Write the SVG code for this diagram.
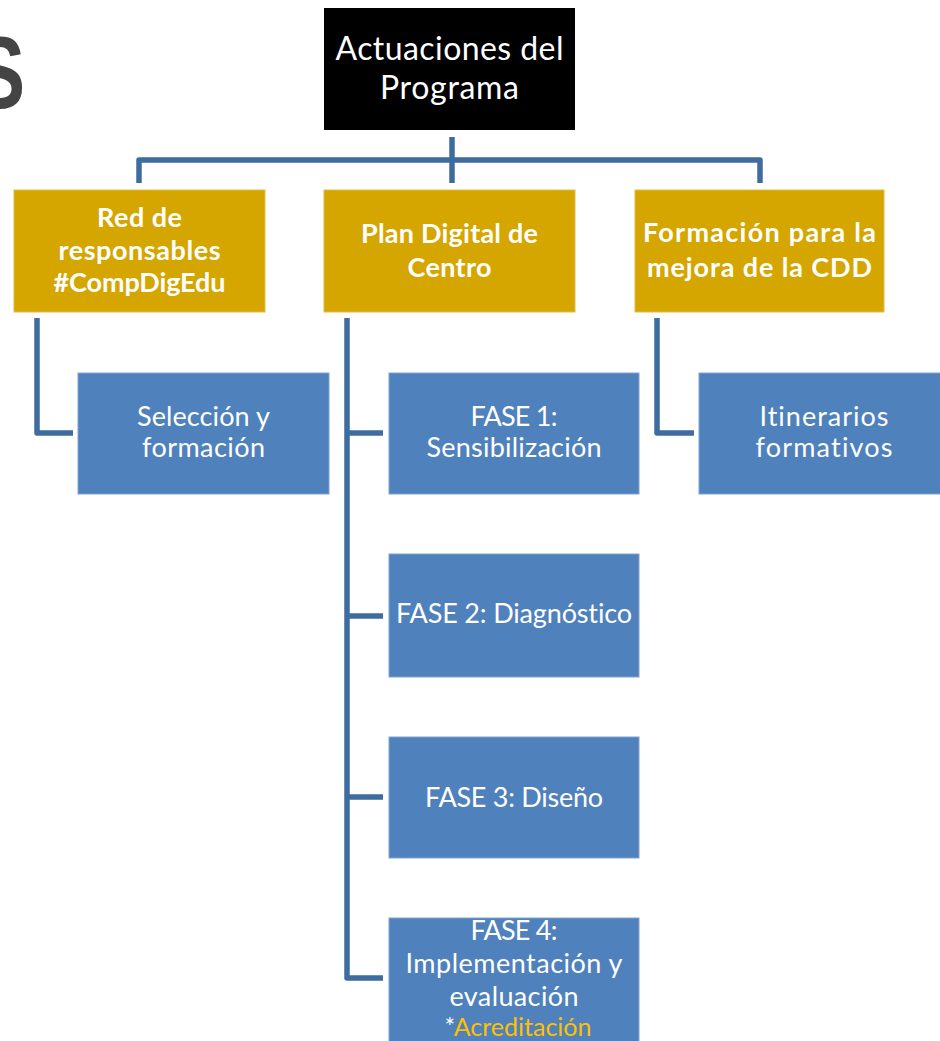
<svg xmlns="http://www.w3.org/2000/svg" width="940" height="1041" viewBox="0 0 940 1041">
<style>
.top{fill:#000000}
.gold{fill:#D5A500;stroke:#E2BC4A;stroke-width:1}
.blue{fill:#4F81BD;stroke:#7FA3D0;stroke-width:1}
.t{font-family:Lato,"Open Sans","Liberation Sans",sans-serif;fill:#FFFFFF;text-anchor:middle;font-variant-ligatures:none}
.th{font-size:32px}
.tg{font-size:27px;font-weight:bold}
.tb{font-size:27px}
.conn path{fill:none;stroke:#3F6C9E;stroke-width:5.5;stroke-linejoin:round;stroke-linecap:butt}
</style>
<rect width="940" height="1041" fill="#FFFFFF"/>
<text x="-25" y="108" style="font-family:'Liberation Sans',Arial,sans-serif;font-weight:bold;font-size:102px;fill:#444444" textLength="50" lengthAdjust="spacingAndGlyphs">S</text>
<g class="conn">
<path d="M452 137 V183"/>
<path d="M139 183 V160 H760 V183"/>
<path d="M37 318 V433 H73"/>
<path d="M347 318 V978 H383"/>
<path d="M347 433 H383"/>
<path d="M347 616 H383"/>
<path d="M347 797 H383"/>
<path d="M657 318 V433 H694"/>
</g>
<g id="n-top">
<rect class="top" x="324" y="8" width="251" height="122"/>
<text class="t th" x="449.5" y="60" textLength="228" lengthAdjust="spacing">Actuaciones del</text>
<text class="t th" x="449.5" y="99" textLength="139" lengthAdjust="spacing">Programa</text>
</g>
<g id="n-red">
<rect class="gold" x="14" y="190" width="251" height="122"/>
<text class="t tg" x="139.5" y="227" textLength="85" lengthAdjust="spacing">Red de</text>
<text class="t tg" x="139.5" y="260" textLength="162" lengthAdjust="spacing">responsables</text>
<text class="t tg" x="139.5" y="292" textLength="172" lengthAdjust="spacing">#CompDigEdu</text>
</g>
<g id="n-plan">
<rect class="gold" x="324" y="190" width="251" height="122"/>
<text class="t tg" x="449.5" y="243" textLength="177" lengthAdjust="spacing">Plan Digital de</text>
<text class="t tg" x="449.5" y="277" textLength="84" lengthAdjust="spacing">Centro</text>
</g>
<g id="n-form">
<rect class="gold" x="635" y="190" width="249" height="122"/>
<text class="t tg" x="759.5" y="242" textLength="233" lengthAdjust="spacing">Formación para la</text>
<text class="t tg" x="759.5" y="277" textLength="225" lengthAdjust="spacing">mejora de la CDD</text>
</g>
<g id="n-sel">
<rect class="blue" x="78" y="373" width="251" height="121"/>
<text class="t tb" x="203.5" y="426" textLength="133" lengthAdjust="spacing">Selección y</text>
<text class="t tb" x="203.5" y="457" textLength="123" lengthAdjust="spacing">formación</text>
</g>
<g id="n-f1">
<rect class="blue" x="389" y="373" width="250" height="121"/>
<text class="t tb" x="514" y="426" textLength="87" lengthAdjust="spacing">FASE 1:</text>
<text class="t tb" x="514" y="457" textLength="175" lengthAdjust="spacing">Sensibilización</text>
</g>
<g id="n-itin">
<rect class="blue" x="699" y="373" width="250" height="121"/>
<text class="t tb" x="824" y="426" textLength="129" lengthAdjust="spacing">Itinerarios</text>
<text class="t tb" x="824" y="457" textLength="137" lengthAdjust="spacing">formativos</text>
</g>
<g id="n-f2">
<rect class="blue" x="389" y="554" width="250" height="123"/>
<text class="t tb" x="514" y="623" textLength="236" lengthAdjust="spacing">FASE 2: Diagnóstico</text>
</g>
<g id="n-f3">
<rect class="blue" x="389" y="737" width="250" height="121"/>
<text class="t tb" x="514" y="807" textLength="178" lengthAdjust="spacing">FASE 3: Diseño</text>
</g>
<g id="n-f4">
<rect class="blue" x="389" y="918" width="250" height="124"/>
<text class="t tb" x="514" y="940" textLength="87" lengthAdjust="spacing">FASE 4:</text>
<text class="t tb" x="514" y="973" textLength="217" lengthAdjust="spacing">Implementación y</text>
<text class="t tb" x="514" y="1006" textLength="129" lengthAdjust="spacing">evaluación</text>
<text class="t" x="518" y="1036" style="font-size:25px">*<tspan fill="#FFC000">Acreditación</tspan></text>
</g>
</svg>
